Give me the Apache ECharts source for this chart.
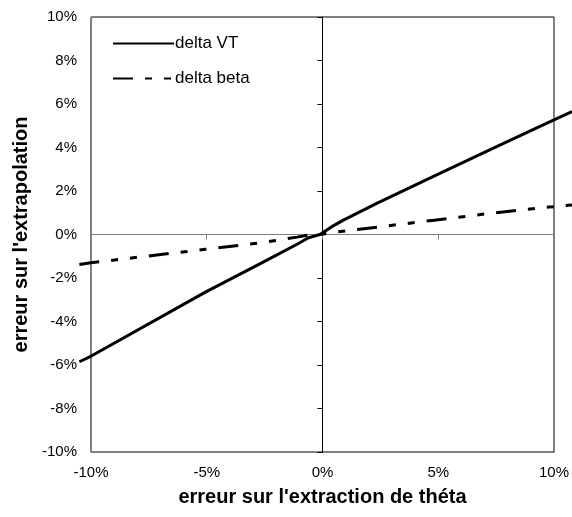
<!DOCTYPE html>
<html><head><meta charset="utf-8">
<script src="https://cdn.jsdelivr.net/npm/echarts@6/dist/echarts.min.js"></script>
<style>html,body{margin:0;padding:0;background:#fff}#c{width:572px;height:517px}</style>
</head><body><div id="c"></div>
<script>
var xValues = [-10.5, -10, -5, -2.5, -1, -0.5, 0, 0.5, 1, 2.5, 5, 7.5, 10, 11];
var deltaVT = [-5.85, -5.6, -2.65, -1.28, -0.45, -0.15, 0, 0.35, 0.65, 1.44, 2.7, 3.94, 5.17, 5.65];
var deltaBeta = [-1.38, -1.3, -0.68, -0.37, -0.12, -0.03, 0, 0.08, 0.15, 0.34, 0.66, 0.98, 1.26, 1.36];
var seriesNames = ['delta VT', 'delta beta'];
var xTitle = "erreur sur l'extraction de théta";
var yTitle = "erreur sur l'extrapolation";

function pairs(ys){ return xValues.map(function(x,i){ return [x, ys[i]]; }); }
var FONT = 'Liberation Sans, Arial, sans-serif';
var chart = echarts.init(document.getElementById('c'), null, {renderer:'canvas'});
var pct = function(v){ return v + '%'; };
// plot box: x -10..10 -> px 91..556, y -10..10 -> px 452..17
var PX_PER_X = (556 - 91) / 20;
var dataXMin = Math.min.apply(null, xValues), dataXMax = Math.max.apply(null, xValues);
chart.setOption({
  animation: false,
  backgroundColor: '#fff',
  grid: [
    { left: 91, right: 16, top: 17, bottom: 65, show: true, borderColor: '#000', borderWidth: 1 },
    { left: 91 + (dataXMin + 10) * PX_PER_X, right: 16 - (dataXMax - 10) * PX_PER_X, top: 17, bottom: 65, show: false }
  ],
  legend: {
    orient: 'vertical', left: 107, top: 30, itemWidth: 61, itemHeight: 16, itemGap: 18,
    itemStyle: { opacity: 0 },
    textStyle: { fontFamily: FONT, fontSize: 17, color: '#000', padding: [0,0,0,-4] },
    data: seriesNames
  },
  xAxis: [
    { type: 'value', gridIndex: 0, min: -10, max: 10, interval: 5, position: 'bottom',
      axisLine: { show: true, onZero: false, lineStyle: { color: '#808080', width: 1 } },
      axisTick: { show: false }, splitLine: { show: false },
      axisLabel: { formatter: pct, fontFamily: FONT, fontSize: 15, color: '#000', margin: 13 },
      name: xTitle, nameLocation: 'middle', nameGap: 35,
      nameTextStyle: { fontFamily: FONT, fontSize: 20, fontWeight: 'bold', color: '#000' } },
    { type: 'value', gridIndex: 0, min: -10, max: 10, interval: 5, position: 'bottom',
      axisLine: { show: true, onZero: true, onZeroAxisIndex: 0, lineStyle: { color: '#808080', width: 1 } },
      axisTick: { show: true, length: 5, lineStyle: { color: '#808080' } },
      axisLabel: { show: false }, splitLine: { show: false } },
    { type: 'value', gridIndex: 1, min: dataXMin, max: dataXMax, show: false }
  ],
  yAxis: [
    { type: 'value', gridIndex: 0, min: -10, max: 10, interval: 2, position: 'left',
      axisLine: { show: true, onZero: false, lineStyle: { color: '#808080', width: 1 } },
      axisTick: { show: false }, splitLine: { show: false },
      axisLabel: { formatter: pct, fontFamily: FONT, fontSize: 15, color: '#000', margin: 14 },
      name: yTitle, nameLocation: 'middle', nameGap: 58, nameRotate: 90,
      nameTextStyle: { fontFamily: FONT, fontSize: 20, fontWeight: 'bold', color: '#000' } },
    { type: 'value', gridIndex: 0, min: -10, max: 10, interval: 2, position: 'left',
      axisLine: { show: true, onZero: true, onZeroAxisIndex: 0, lineStyle: { color: '#000', width: 1 } },
      axisTick: { show: true, length: 5, lineStyle: { color: '#000' } },
      axisLabel: { show: false }, splitLine: { show: false } },
    { type: 'value', gridIndex: 1, min: -10, max: 10, show: false }
  ],
  series: [
    { name: seriesNames[0], type: 'line', data: pairs(deltaVT), xAxisIndex: 2, yAxisIndex: 2,
      symbol: 'none', clip: false, color: '#000',
      lineStyle: { color: '#000', width: 3 } },
    { name: seriesNames[1], type: 'line', data: pairs(deltaBeta), xAxisIndex: 2, yAxisIndex: 2,
      symbol: 'none', clip: false, color: '#000',
      lineStyle: { color: '#000', width: 3, type: [20, 12, 7, 12, 7, 12] } }
  ]
});
</script></body></html>
